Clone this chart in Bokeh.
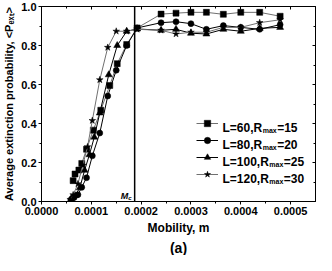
from bokeh.plotting import figure
from bokeh.models import (FixedTicker, PrintfTickFormatter, LinearAxis, Span, Label,
                          Legend, LegendItem, Range1d, Title)
from bokeh.core.properties import value
from bokeh.embed import file_html
from bokeh.resources import INLINE

# ---------------- data ----------------
mob_L60 = [6.35e-5, 6.73e-5, 7.5e-5, 8.08e-5, 9.04e-5, 1.04e-4, 1.19e-4, 1.37e-4, 1.52e-4, 1.71e-4,
           1.92e-4, 2.4e-4, 2.7e-4, 3.0e-4, 3.31e-4, 3.65e-4, 4.0e-4, 4.38e-4, 4.79e-4]
pext_L60 = [0.107, 0.141, 0.161, 0.195, 0.268, 0.366, 0.468, 0.595, 0.707, 0.805,
            0.89, 0.961, 0.966, 0.97, 0.97, 0.96, 0.97, 0.97, 0.95]

mob_L80 = [5.96e-5, 6.54e-5, 7.31e-5, 8.08e-5, 9.04e-5, 1.02e-4, 1.17e-4, 1.33e-4, 1.5e-4, 1.71e-4,
           1.92e-4, 2.4e-4, 2.7e-4, 3.0e-4, 3.31e-4, 3.65e-4, 4.0e-4, 4.38e-4, 4.79e-4]
pext_L80 = [0.01, 0.02, 0.035, 0.073, 0.122, 0.234, 0.351, 0.541, 0.673, 0.80,
            0.89, 0.917, 0.922, 0.912, 0.883, 0.902, 0.893, 0.883, 0.907]

mob_L100 = [5.96e-5, 6.73e-5, 7.69e-5, 8.65e-5, 9.62e-5, 1.06e-4, 1.17e-4, 1.35e-4, 1.52e-4, 1.71e-4,
            1.92e-4, 2.4e-4, 2.7e-4, 3.0e-4, 3.31e-4, 3.65e-4, 4.0e-4, 4.38e-4, 4.79e-4]
pext_L100 = [0.015, 0.03, 0.07, 0.16, 0.24, 0.33, 0.454, 0.65, 0.80, 0.873,
             0.885, 0.878, 0.883, 0.863, 0.859, 0.883, 0.873, 0.888, 0.893]

mob_L120 = [5.77e-5, 6.35e-5, 7.31e-5, 8.27e-5, 9.23e-5, 1.02e-4, 1.17e-4, 1.33e-4, 1.5e-4, 1.71e-4,
            1.92e-4, 2.4e-4, 2.7e-4, 3.0e-4, 3.31e-4, 3.65e-4, 4.0e-4, 4.38e-4, 4.79e-4]
pext_L120 = [0.01, 0.034, 0.09, 0.185, 0.28, 0.415, 0.624, 0.79, 0.873, 0.873,
             0.883, 0.878, 0.859, 0.868, 0.868, 0.893, 0.893, 0.917, 0.932]

legend_main = ["L=60,R", "L=80,R", "L=100,R", "L=120,R"]
legend_sub = ["max", "max", "max", "max"]
legend_tail = ["=15", "=20", "=25", "=30"]

x_ticks = [0.0, 0.0001, 0.0002, 0.0003, 0.0004, 0.0005]
x_minor = [0.00005, 0.00015, 0.00025, 0.00035, 0.00045]
y_ticks = [0.0, 0.2, 0.4, 0.6, 0.8, 1.0]
y_minor = [0.1, 0.3, 0.5, 0.7, 0.9]
M_c = 0.000187

y_title = "Average extinction probability, <P\u2091\u2093\u209c>"
x_title = "Mobility, m"
panel_tag = "(a)"

# ---------------- styling ----------------
FONT = "Liberation Sans"
# Arial/Liberation Sans Bold advance widths (per 1000 em)
W = {'L': 611, '=': 584, 'R': 722, ',': 278, 'm': 889, 'a': 556, 'x': 556, 'M': 833,
     '0': 556, '1': 556, '2': 556, '3': 556, '4': 556, '5': 556, '6': 556}


def tw(s, size):
    return sum(W.get(ch, 556) for ch in s) * size / 1000.0


p = figure(width=316, height=255, output_backend="svg", toolbar_location=None,
           x_range=Range1d(0, 0.00055), y_range=Range1d(0, 1.0),
           min_border_left=36, min_border_right=1, min_border_top=6, min_border_bottom=20)
p.grid.visible = False
p.outline_line_color = "black"
p.outline_line_width = 1
p.background_fill_color = "white"
p.border_fill_color = "white"

for ax, ticks, minor, fmt in ((p.xaxis[0], x_ticks, x_minor, "%.4f"), (p.yaxis[0], y_ticks, y_minor, "%.1f")):
    ax.ticker = FixedTicker(ticks=ticks, minor_ticks=minor)
    ax.formatter = PrintfTickFormatter(format=fmt)
    ax.major_label_text_font = FONT
    ax.major_label_text_font_style = "bold"
    ax.major_label_text_font_size = "11px"
    ax.major_label_text_color = "black"
    ax.major_tick_out = 3
    ax.major_tick_in = 0
    ax.minor_tick_out = 2
    ax.minor_tick_in = 0
    ax.major_label_standoff = 2
    ax.axis_line_color = "black"
    ax.major_tick_line_color = "black"
    ax.minor_tick_line_color = "black"
    ax.axis_label_text_font = FONT
    ax.axis_label_text_font_style = "bold"
    ax.axis_label_text_color = "black"

p.xaxis.axis_label = x_title
p.xaxis.axis_label_text_font_size = "12px"
p.xaxis.axis_label_standoff = 3
p.yaxis.axis_label = y_title
p.yaxis.axis_label_text_font_size = "11px"
p.yaxis.axis_label_standoff = 3

p.add_layout(Title(text=panel_tag, align="center", text_font=FONT, text_font_style="bold",
                   text_font_size="14px", text_color="black", standoff=0, offset=0), "below")

# mirrored axes with inward ticks, no labels
for ticks, minor, place in ((x_ticks, x_minor, "above"), (y_ticks, y_minor, "right")):
    ax = LinearAxis(ticker=FixedTicker(ticks=ticks, minor_ticks=minor),
                    major_label_text_color=None, major_label_text_font_size="1px",
                    major_label_standoff=0,
                    major_tick_in=3, major_tick_out=0, minor_tick_in=2, minor_tick_out=0,
                    axis_line_color="black")
    p.add_layout(ax, place)

# Mc line
p.add_layout(Span(location=M_c, dimension="height", line_color="black", line_width=1.5))

series = [
    (mob_L60, pext_L60, "square", 6, "#707070"),
    (mob_L80, pext_L80, "circle", 6, "black"),
    (mob_L100, pext_L100, "triangle", 7, "black"),
    (mob_L120, pext_L120, "star", 7, "#707070"),
]
items = []
for xs, ys, mk, sz, lc in series:
    lr = p.line(xs, ys, line_color=lc, line_width=1)
    sr = p.scatter(xs, ys, marker=mk, size=sz, fill_color="black", line_color="black", line_width=0.5)
    items.append(LegendItem(label=value(" "), renderers=[lr, sr]))

GLW, ROW, GAP = 22, 16, 1
LVX, LVY = 155, 19
legend = Legend(items=items, location=(LVX, LVY), glyph_width=GLW, glyph_height=ROW, label_height=ROW,
                label_width=1, label_standoff=0, spacing=GAP, padding=0, margin=0,
                border_line_color=None, background_fill_alpha=0, label_text_font_size="1px",
                label_text_color=None)
p.add_layout(legend)

total_h = 4 * ROW + 3 * GAP
for i in range(4):
    yc = LVY + total_h - ROW / 2 - (ROW + GAP) * i
    base = yc - 4
    x0 = LVX + GLW + 4
    common = dict(x_units="screen", y_units="screen", text_font=FONT, text_font_style="bold",
                  text_color="black", text_baseline="alphabetic", text_align="left")
    p.add_layout(Label(x=x0, y=base, text=legend_main[i], text_font_size="12px", **common))
    x1 = x0 + tw(legend_main[i], 12) + 0.5
    p.add_layout(Label(x=x1, y=base - 2.5, text=legend_sub[i], text_font_size="7px", **common))
    x2 = x1 + tw(legend_sub[i], 7) + 0.5
    p.add_layout(Label(x=x2, y=base, text=legend_tail[i], text_font_size="12px", **common))

# Mc label
p.add_layout(Label(x=M_c, y=6, x_units="data", y_units="screen", x_offset=-14, text="M",
                   text_font=FONT, text_font_style="bold italic", text_font_size="9px",
                   text_baseline="alphabetic", text_align="left", text_color="black"))
p.add_layout(Label(x=M_c, y=4, x_units="data", y_units="screen", x_offset=-14 + tw("M", 9), text="c",
                   text_font=FONT, text_font_style="bold italic", text_font_size="6px",
                   text_baseline="alphabetic", text_align="left", text_color="black"))

open("out.html", "w").write(file_html(p, INLINE))
